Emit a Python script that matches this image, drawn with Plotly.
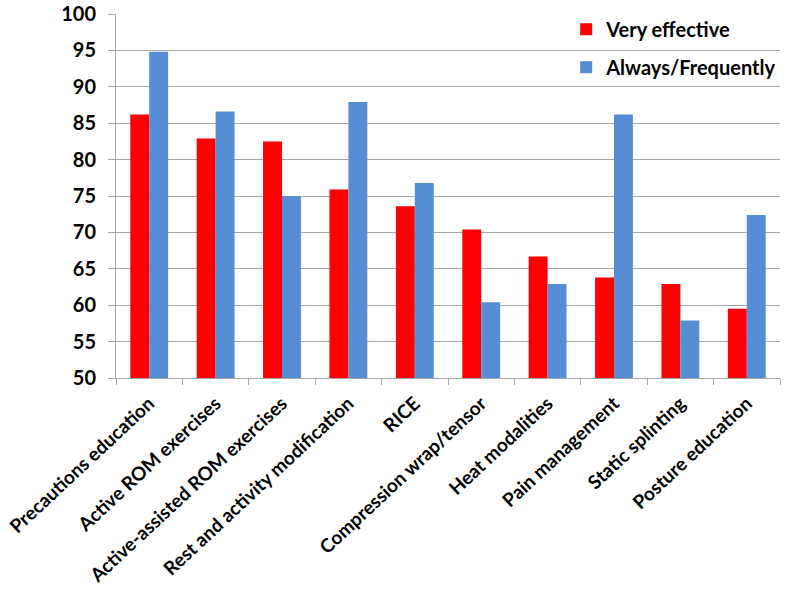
import plotly.graph_objects as go

categories = ["Precautions education", "Active ROM exercises", "Active-assisted ROM exercises",
              "Rest and activity modification", "RICE", "Compression wrap/tensor",
              "Heat modalities", "Pain management", "Static splinting", "Posture education"]
very_effective = [86.2, 82.9, 82.5, 75.9, 73.6, 70.4, 66.7, 63.8, 62.9, 59.5]
always_frequently = [94.8, 86.6, 75.0, 87.9, 76.8, 60.4, 62.9, 86.2, 57.9, 72.4]

FONT = "Lato"

fig = go.Figure()
fig.add_trace(go.Bar(x=categories, y=very_effective, name="Very effective",
                     marker=dict(color="#FF0000", line=dict(width=0)), legendgroup="a"))
fig.add_trace(go.Bar(x=categories, y=always_frequently, name="Always/Frequently",
                     marker=dict(color="#558ED5", line=dict(width=0)), legendgroup="b"))

fig.update_layout(
    width=795, height=595,
    paper_bgcolor="white", plot_bgcolor="white",
    margin=dict(l=116, r=15, t=14, b=217, autoexpand=False),
    barmode="group", bargap=0.43, bargroupgap=0,
    font=dict(family=FONT, color="black"),
    showlegend=True,
    legend=dict(x=0.678, y=1.012, xanchor="left", yanchor="top",
                font=dict(family=FONT, size=20, color="black", weight="bold"),
                bgcolor="rgba(255,255,255,0)", traceorder="grouped", tracegroupgap=9),
)
fig.update_yaxes(range=[50, 100], dtick=5, showgrid=True, gridcolor="#A6A6A6", gridwidth=1,
                 showline=True, linecolor="#A6A6A6", linewidth=1,
                 ticks="outside", ticklen=7, tickcolor="#A6A6A6", automargin=False,
                 ticklabelstandoff=8,
                 tickfont=dict(family=FONT, size=20, color="black", weight="bold"),
                 zeroline=False)
fig.update_xaxes(showline=True, linecolor="#A6A6A6", linewidth=1, automargin=False,
                 ticks="outside", ticklen=6, tickcolor="#A6A6A6", tickson="boundaries",
                 tickangle=-43, ticklabelstandoff=6,
                 tickfont=dict(family=FONT, size=19, color="black", weight="bold"))

fig.write_html("out.html", config={"displayModeBar": False},
               post_script="document.body.style.margin='0';")
